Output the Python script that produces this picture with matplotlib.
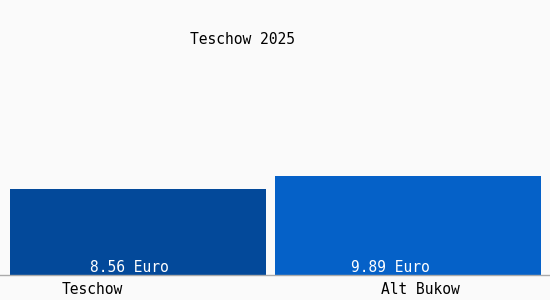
import matplotlib
matplotlib.use("Agg")
import matplotlib.pyplot as plt
import matplotlib.transforms as mtrans

categories = ["Teschow", "Alt Bukow"]
values = [8.56, 9.89]
value_labels = ["8.56 Euro", "9.89 Euro"]
title = "Teschow 2025"

colors = ["#03499a", "#0561c8"]
bg = "#fafafa"
font = "DejaVu Sans Mono"

fig = plt.figure(figsize=(5.5, 3.0), dpi=100, facecolor=bg)
ax = fig.add_axes([0, 25/300, 1, 275/300])
ax.set_facecolor(bg)

pos = list(range(len(categories)))
ax.bar(pos, values, width=[0.948, 0.985], color=colors, align="center")
ax.set_xlim(-0.511, 1.526)
ax.set_ylim(0, 27.5)

label_shift = [-0.03, -0.067]
for p, v, lab, sh in zip(pos, values, value_labels, label_shift):
    ax.text(p + sh, 0.7, lab, color="white", ha="center", va="center",
            fontsize=10.5, family=font)

ax.set_xticks(pos)
ax.set_xticklabels(categories, fontsize=10.5, family=font)
ax.tick_params(axis="x", length=0, pad=5)
offsets = [-46/100, 12/100]
for l, o in zip(ax.get_xticklabels(), offsets):
    l.set_transform(l.get_transform() + mtrans.ScaledTranslation(o, 0, fig.dpi_scale_trans))

ax.set_yticks([])
for s in ["top", "right", "left"]:
    ax.spines[s].set_visible(False)
ax.spines["bottom"].set_color("#aaaaaa")
ax.spines["bottom"].set_linewidth(1)

fig.text(243/550, 1 - 40/300, title, ha="center", va="center", fontsize=10.5, family=font)

fig.savefig("out.png", dpi=100, facecolor=bg)
